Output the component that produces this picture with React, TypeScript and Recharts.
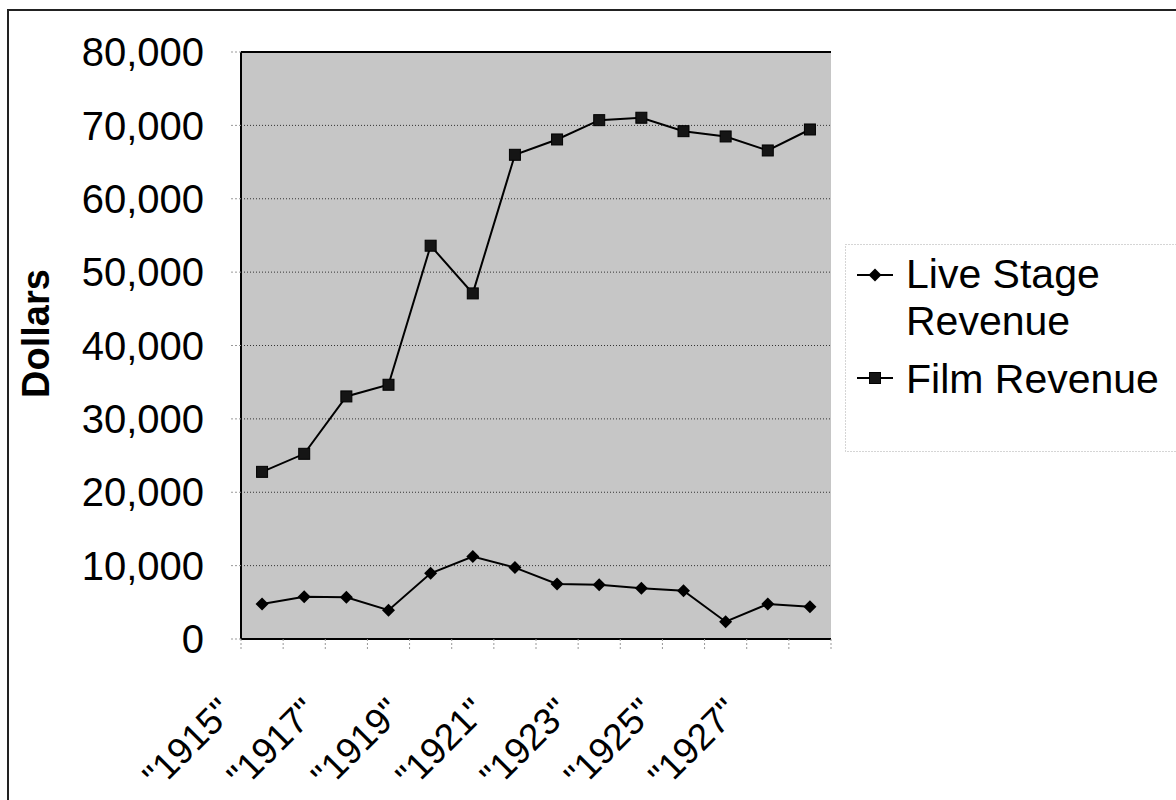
import React from "react";
import { ComposedChart, Line, XAxis, YAxis, CartesianGrid, ReferenceLine } from "recharts";

// category labels are quoted in the original spreadsheet
const years = ['"1915"', '"1916"', '"1917"', '"1918"', '"1919"', '"1920"', '"1921"',
  '"1922"', '"1923"', '"1924"', '"1925"', '"1926"', '"1927"', '"1928"'];

const liveStage = [4770, 5770, 5690, 3920, 8960, 11230, 9730, 7500, 7410, 6920, 6590, 2360, 4770, 4400];
const filmRevenue = [22780, 25240, 33060, 34650, 53600, 47100, 65990, 68080, 70710, 71040, 69210, 68490, 66580, 69440];

const yTicks = [0, 10000, 20000, 30000, 40000, 50000, 60000, 70000, 80000];

const seriesNames = ["Live Stage Revenue", "Film Revenue"];

const data = years.map((year, i) => ({
  year,
  live: liveStage[i],
  film: filmRevenue[i],
}));

const W = 1176;
const H = 800;
const margin = { top: 52, right: 345, bottom: 0, left: 0 };
const Y_AXIS_W = 241;
const X_AXIS_H = 161;
const PLOT_W = W - margin.left - margin.right - Y_AXIS_W;
const PLOT_BOTTOM = H - margin.bottom - X_AXIS_H;
const BAND = PLOT_W / years.length;
const FONT = "'Liberation Sans', Arial, sans-serif";

const Diamond = (props: any) => {
  const { cx, cy } = props;
  if (cx == null || cy == null) return null;
  const r = 6.5;
  return <path d={`M${cx},${cy - r}L${cx + r},${cy}L${cx},${cy + r}L${cx - r},${cy}Z`} fill="#000" />;
};

const Square = (props: any) => {
  const { cx, cy } = props;
  if (cx == null || cy == null) return null;
  return <rect x={cx - 5.5} y={cy - 5.5} width={11} height={11} fill="#151515" stroke="#000" />;
};

const YearTick = (props: any) => {
  const { x, payload } = props;
  const idx = years.indexOf(payload.value);
  const half = BAND / 2;
  const tx = x - 27;
  const ty = PLOT_BOTTOM + 75;
  return (
    <g>
      <line x1={x - half} x2={x - half} y1={PLOT_BOTTOM} y2={PLOT_BOTTOM + 12} stroke="#999" strokeDasharray="2 2" />
      {idx === years.length - 1 && (
        <line x1={x + half} x2={x + half} y1={PLOT_BOTTOM} y2={PLOT_BOTTOM + 12} stroke="#999" strokeDasharray="2 2" />
      )}
      {idx % 2 === 0 && (
        <text
          x={tx}
          y={ty}
          transform={`rotate(-45, ${tx}, ${ty})`}
          textAnchor="end"
          fontSize={37}
          fontFamily={FONT}
          fill="#000"
        >
          {payload.value}
        </text>
      )}
    </g>
  );
};

const DollarsLabel = (props: any) => {
  const vb = props.viewBox || {};
  const cx = 49;
  const cy = (vb.y ?? margin.top) + (vb.height ?? 587) / 2 - 12;
  return (
    <text
      x={cx}
      y={cy}
      transform={`rotate(-90, ${cx}, ${cy})`}
      textAnchor="middle"
      fontSize={38}
      fontWeight="bold"
      fontFamily={FONT}
      fill="#000"
    >
      Dollars
    </text>
  );
};

const LegendBox = () => (
  <svg
    width={340}
    height={210}
    style={{ position: "absolute", left: 845, top: 244, overflow: "visible" }}
  >
    <rect x={0.5} y={0.5} width={360} height={207} fill="#fff" stroke="#aaa" strokeDasharray="1 2" />
    <line x1={12} x2={48} y1={31} y2={31} stroke="#000" strokeWidth={2} />
    <Diamond cx={30} cy={31} />
    <text x={61} y={44} fontSize={41} fontFamily={FONT} fill="#000">Live Stage</text>
    <text x={61} y={91} fontSize={41} fontFamily={FONT} fill="#000">Revenue</text>
    <line x1={12} x2={48} y1={134} y2={134} stroke="#000" strokeWidth={2} />
    <Square cx={30} cy={134} />
    <text x={61} y={149} fontSize={41} fontFamily={FONT} fill="#000">{seriesNames[1]}</text>
  </svg>
);

export default function App() {
  return (
    <div
      style={{
        position: "absolute",
        left: 0,
        top: 0,
        width: W,
        height: H,
        overflow: "hidden",
        background: "#fff",
      }}
    >
      <div
        style={{
          position: "absolute",
          left: 7,
          top: 9,
          width: W,
          height: H,
          borderLeft: "2px solid #222",
          borderTop: "2px solid #222",
        }}
      />
      <div style={{ position: "absolute", left: 0, top: 0 }}>
        <ComposedChart width={W} height={H} data={data} margin={margin}>
          <CartesianGrid
            vertical={false}
            fill="#c6c6c6"
            fillOpacity={1}
            stroke="#333"
            strokeDasharray="1 2"
          />
          <XAxis
            dataKey="year"
            scale="band"
            interval={0}
            height={X_AXIS_H}
            tickLine={false}
            axisLine={{ stroke: "#000", strokeWidth: 2 }}
            tick={<YearTick />}
          />
          <YAxis
            domain={[0, 80000]}
            ticks={yTicks}
            width={Y_AXIS_W}
            interval={0}
            tickFormatter={(v: number) => v.toLocaleString("en-US")}
            tick={{ fontSize: 40, fill: "#000", fontFamily: FONT }}
            tickSize={10}
            tickMargin={27}
            tickLine={{ stroke: "#999", strokeDasharray: "2 2" }}
            axisLine={{ stroke: "#000", strokeWidth: 2 }}
            label={<DollarsLabel />}
          />
          <YAxis
            yAxisId="right"
            orientation="right"
            domain={[0, 80000]}
            width={0}
            tick={false}
            tickLine={false}
            axisLine={{ stroke: "#000", strokeWidth: 2 }}
          />
          <ReferenceLine y={80000} stroke="#000" strokeWidth={2} />
          <Line
            dataKey="live"
            name={seriesNames[0]}
            stroke="#000"
            strokeWidth={2}
            dot={<Diamond />}
            activeDot={false}
            isAnimationActive={false}
          />
          <Line
            dataKey="film"
            name={seriesNames[1]}
            stroke="#000"
            strokeWidth={2}
            dot={<Square />}
            activeDot={false}
            isAnimationActive={false}
          />
        </ComposedChart>
      </div>
      <LegendBox />
    </div>
  );
}
